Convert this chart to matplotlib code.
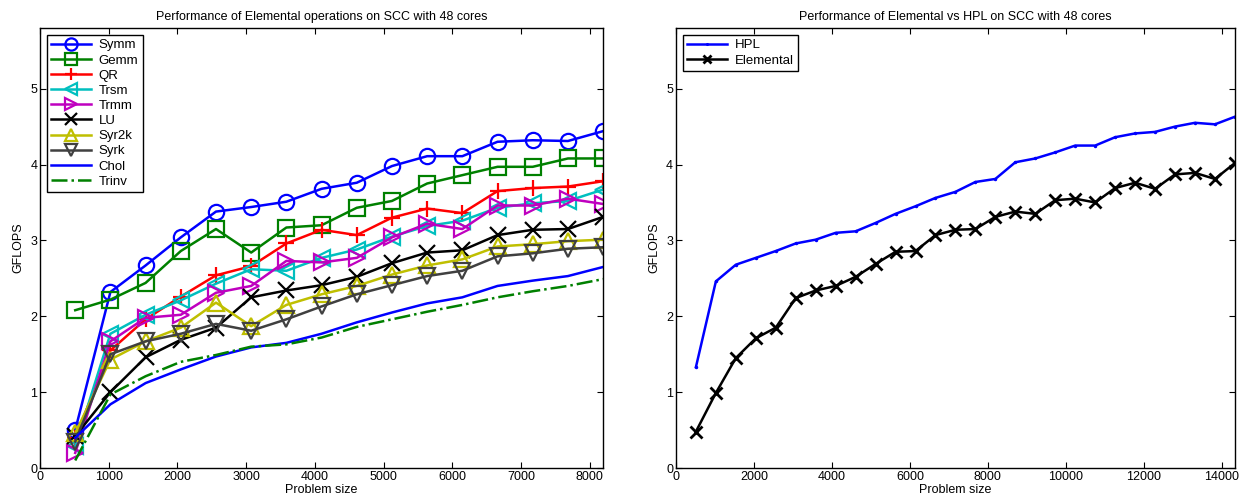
import numpy as np
import matplotlib
matplotlib.use("Agg")
import matplotlib.pyplot as plt

plt.rcParams['font.family'] = ['Liberation Sans', 'DejaVu Sans']
plt.rc(["xtick", "ytick"], labelsize=9, direction='in')
plt.rc("xtick", top=True)
plt.rc("ytick", right=True)

# problem sizes
SIZES_L = [512 * k for k in range(1, 17)]
SIZES_R = [512 * k for k in range(1, 29)]

SYMM = [0.50, 2.32, 2.67, 3.04, 3.38, 3.44, 3.51, 3.68, 3.76, 3.98, 4.11, 4.11, 4.30, 4.32, 4.31, 4.44]
GEMM = [2.08, 2.22, 2.44, 2.86, 3.15, 2.84, 3.17, 3.20, 3.43, 3.52, 3.75, 3.86, 3.97, 3.97, 4.08, 4.08]
QR = [0.40, 1.55, 1.96, 2.26, 2.54, 2.66, 2.96, 3.14, 3.07, 3.30, 3.42, 3.36, 3.65, 3.69, 3.71, 3.78]
TRSM = [0.29, 1.77, 2.02, 2.21, 2.43, 2.62, 2.60, 2.77, 2.88, 3.05, 3.19, 3.26, 3.43, 3.49, 3.52, 3.67]
TRMM = [0.20, 1.67, 1.98, 2.02, 2.31, 2.40, 2.73, 2.71, 2.77, 3.04, 3.22, 3.15, 3.46, 3.46, 3.55, 3.48]
LU = [0.42, 1.00, 1.46, 1.69, 1.85, 2.25, 2.34, 2.41, 2.52, 2.70, 2.84, 2.87, 3.07, 3.14, 3.15, 3.31]
SYR2K = [0.46, 1.43, 1.67, 1.85, 2.18, 1.87, 2.15, 2.29, 2.40, 2.55, 2.67, 2.75, 2.92, 2.95, 2.99, 3.01]
SYRK = [0.35, 1.50, 1.67, 1.77, 1.90, 1.81, 1.96, 2.13, 2.29, 2.41, 2.53, 2.60, 2.79, 2.83, 2.89, 2.91]
CHOL = [0.40, 0.84, 1.12, 1.30, 1.47, 1.59, 1.65, 1.77, 1.92, 2.05, 2.17, 2.25, 2.40, 2.47, 2.53, 2.65]
TRINV = [0.10, 0.97, 1.21, 1.40, 1.49, 1.60, 1.63, 1.72, 1.86, 1.96, 2.06, 2.15, 2.25, 2.33, 2.40, 2.49]

HPL = [1.33, 2.46, 2.68, 2.77, 2.86, 2.96, 3.01, 3.10, 3.12, 3.23, 3.35, 3.45, 3.56, 3.64,
       3.77, 3.81, 4.03, 4.08, 4.16, 4.25, 4.25, 4.36, 4.41, 4.43, 4.50, 4.55, 4.53, 4.63]
ELEMENTAL = [0.48, 0.99, 1.45, 1.71, 1.85, 2.24, 2.34, 2.40, 2.52, 2.69, 2.85, 2.86, 3.07, 3.14,
             3.15, 3.31, 3.38, 3.35, 3.53, 3.55, 3.50, 3.69, 3.76, 3.68, 3.87, 3.89, 3.81, 4.02]

# (label, values, color, marker, linestyle)
SERIES = [
    ('Symm', SYMM, 'b', 'o', '-'),
    ('Gemm', GEMM, (0, 0.5, 0), 's', '-'),
    ('QR', QR, 'r', '+', '-'),
    ('Trsm', TRSM, (0, 0.75, 0.75), '<', '-'),
    ('Trmm', TRMM, (0.75, 0, 0.75), '>', '-'),
    ('LU', LU, 'k', 'x', '-'),
    ('Syr2k', SYR2K, (0.75, 0.75, 0), '^', '-'),
    ('Syrk', SYRK, (0.25, 0.25, 0.25), 'v', '-'),
    ('Chol', CHOL, 'b', None, '-'),
    ('Trinv', TRINV, (0, 0.5, 0), None, '-.'),
]


def style_axes(ax, xmax, title):
    ax.set_xlim(0, xmax)
    ax.set_ylim(0, 5.8)
    ax.set_yticks([0, 1, 2, 3, 4, 5])
    ax.set_title(title, fontsize=9)
    ax.set_xlabel('Problem size', fontsize=9, labelpad=1)
    ax.set_ylabel('GFLOPS', fontsize=9)
    ax.tick_params(length=4, width=0.8, pad=2)
    for s in ax.spines.values():
        s.set_linewidth(1.0)


def make_legend(ax):
    leg = ax.legend(loc='upper left', fontsize=9.5, fancybox=False, framealpha=1,
                    edgecolor='k', handlelength=3.0, labelspacing=0.22,
                    borderaxespad=0.5, handletextpad=0.6, borderpad=0.35,
                    markerscale=0.8)
    leg.get_frame().set_linewidth(1.0)


def main():
    fig = plt.figure(figsize=(12.43, 4.99), dpi=100)

    ax = fig.add_axes([0.0322, 0.062, 0.453, 0.882])
    for label, vals, color, marker, ls in SERIES:
        ax.plot(SIZES_L, vals, color=color, marker=marker, linestyle=ls,
                linewidth=1.8, markersize=11, markerfacecolor='none',
                markeredgewidth=1.6, label=label)
    style_axes(ax, 8192, 'Performance of Elemental operations on SCC with 48 cores')
    make_legend(ax)

    ax1 = fig.add_axes([0.5438, 0.062, 0.4497, 0.882])
    ax1.plot(SIZES_R, HPL, color='b', marker='.', markersize=3, linewidth=1.8, label='HPL')
    ax1.plot(SIZES_R, ELEMENTAL, color='k', marker='x', markersize=8,
             markeredgewidth=2, linewidth=1.8, label='Elemental')
    style_axes(ax1, 14336, 'Performance of Elemental vs HPL on SCC with 48 cores')
    ax1.set_xticks(np.arange(0, 14001, 2000))
    make_legend(ax1)

    plt.savefig('out.png', dpi=100)


if __name__ == '__main__':
    main()
